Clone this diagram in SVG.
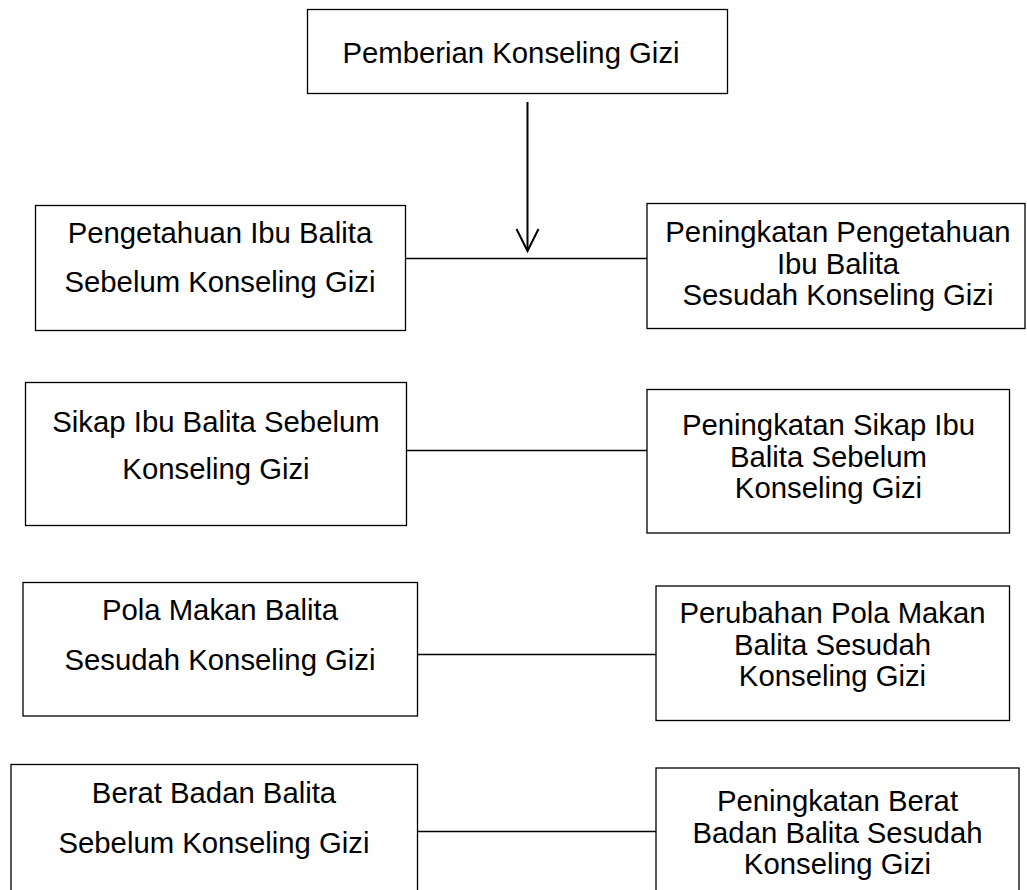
<svg xmlns="http://www.w3.org/2000/svg" width="1027" height="890" viewBox="0 0 1027 890">
<style>
.box{fill:#fff;stroke:#000;stroke-width:1.3}
.t{font-family:"Liberation Sans",Arial,sans-serif;font-size:29.3px;fill:#000;text-anchor:middle}
.c{stroke:#000;stroke-width:1.3;fill:none}
.a{stroke:#000;stroke-width:2;fill:none}
</style>
<rect width="1027" height="890" fill="#fff"/>
<g id="connectors">
<line class="a" x1="527.5" y1="102" x2="527.5" y2="251"/>
<path d="M516.5 229 L527.5 251 L538.5 229" class="a"/>
<line class="c" x1="406" y1="258.5" x2="647" y2="258.5"/>
<line class="c" x1="407" y1="450.5" x2="647" y2="450.5"/>
<line class="c" x1="417" y1="654.5" x2="656" y2="654.5"/>
<line class="c" x1="417" y1="831.5" x2="656" y2="831.5"/>
</g>
<g id="n-top">
<rect class="box" x="307.5" y="9.5" width="420" height="84"/>
<text class="t" x="511" y="63">Pemberian Konseling Gizi</text>
</g>
<g id="n-l1">
<rect class="box" x="35.5" y="205.5" width="370" height="125"/>
<text class="t" x="220" y="243">Pengetahuan Ibu Balita</text>
<text class="t" x="220" y="292">Sebelum Konseling Gizi</text>
</g>
<g id="n-r1">
<rect class="box" x="647" y="203.5" width="378" height="125"/>
<text class="t" x="838" y="242">Peningkatan Pengetahuan</text>
<text class="t" x="838" y="273.5">Ibu Balita</text>
<text class="t" x="838" y="305">Sesudah Konseling Gizi</text>
</g>
<g id="n-l2">
<rect class="box" x="25.5" y="382.5" width="381" height="143"/>
<text class="t" x="216" y="432">Sikap Ibu Balita Sebelum</text>
<text class="t" x="216" y="479">Konseling Gizi</text>
</g>
<g id="n-r2">
<rect class="box" x="647" y="389.5" width="362.5" height="143.5"/>
<text class="t" x="828.5" y="435">Peningkatan Sikap Ibu</text>
<text class="t" x="828.5" y="466.5">Balita Sebelum</text>
<text class="t" x="828.5" y="498">Konseling Gizi</text>
</g>
<g id="n-l3">
<rect class="box" x="23" y="582.5" width="394.5" height="133.5"/>
<text class="t" x="220" y="620">Pola Makan Balita</text>
<text class="t" x="220" y="670">Sesudah Konseling Gizi</text>
</g>
<g id="n-r3">
<rect class="box" x="656" y="586" width="353.5" height="134.5"/>
<text class="t" x="832.5" y="623">Perubahan Pola Makan</text>
<text class="t" x="832.5" y="654.5">Balita Sesudah</text>
<text class="t" x="832.5" y="686">Konseling Gizi</text>
</g>
<g id="n-l4">
<rect class="box" x="11" y="764.5" width="406.5" height="140"/>
<text class="t" x="214" y="803">Berat Badan Balita</text>
<text class="t" x="214" y="853">Sebelum Konseling Gizi</text>
</g>
<g id="n-r4">
<rect class="box" x="656" y="768" width="363" height="140"/>
<text class="t" x="837.5" y="811">Peningkatan Berat</text>
<text class="t" x="837.5" y="843">Badan Balita Sesudah</text>
<text class="t" x="837.5" y="874">Konseling Gizi</text>
</g>
</svg>
